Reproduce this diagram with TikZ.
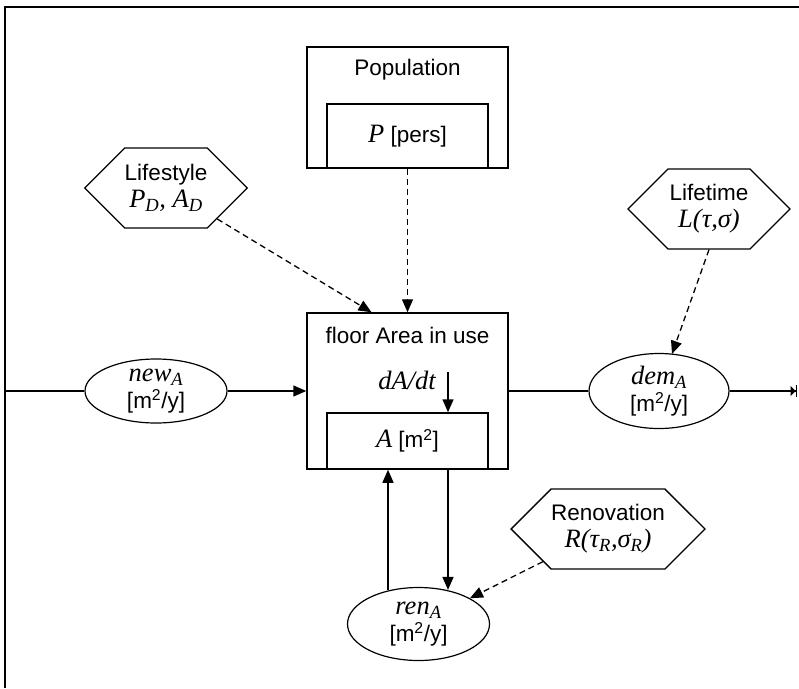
\documentclass[tikz,border=0pt]{standalone}
\usepackage{fontspec}
\setmainfont{Liberation Sans}
\newfontfamily\tms{Liberation Serif}
\usetikzlibrary{arrows.meta,shapes.geometric,shapes.symbols,calc}

\newcommand{\vr}[1]{{\tms\itshape\fontsize{26.5}{27}\selectfont #1}}
\newcommand{\unitA}{[m\textsuperscript{2}/y]}

\tikzset{
  lbl/.style={font=\fontsize{22.5}{27}\selectfont, align=center, inner sep=0pt},
  box/.style={draw, line width=1.5pt, inner sep=0pt},
  hexa/.style={draw, line width=1.3pt, signal, signal to=east and west,
    signal pointer angle=90, minimum width=162pt, minimum height=80pt, lbl},
  flowell/.style={draw, ellipse, line width=1.2pt, minimum width=142pt, lbl},
  flow/.style={line width=1.5pt, -{Triangle[length=13pt,width=11pt]}},
  infl/.style={flow, line width=1.3pt, dash pattern=on 6pt off 4pt},
}

\begin{document}
\begin{tikzpicture}[x=1pt,y=1pt,yscale=-1]
\useasboundingbox (0,0) rectangle (799,688);

% frame
\draw[line width=2pt] (5,688) -- (5,7) -- (799,7);

% Population stock
\node[box, minimum width=201pt, minimum height=121pt] (pop) at (407.5,107.5) {};
\node[box, lbl, minimum width=161pt, minimum height=64pt] (inP) at (407.5,136) {\vr{P} [pers]};
\node[lbl] (popTxt) at (407.5,70) {Population};

% floor area stock
\node[box, minimum width=201pt, minimum height=156pt] (floor) at (407.5,391) {};
\node[box, lbl, minimum width=161pt, minimum height=56pt] (inA) at (407.5,441) {\vr{A} [m\textsuperscript{2}]};
\node[lbl] (floorTxt) at (407.5,335) {floor Area in use};
\node[lbl] (dAdt) at (407,380) {\vr{dA/dt}};
\draw[flow] ($(inA.north)+(40.5,-40)$) -- ($(inA.north)+(40.5,0)$);

% parameters
\node[hexa] (lifestyle) at (166,188) {Lifestyle\\\vr{P\textsubscript{D}, A\textsubscript{D}}};
\node[hexa] (lifetime) at (709,209) {Lifetime\\\vr{L(τ,σ)}};
\node[hexa] (reno) at (608,529) {Renovation\\\vr{R(τ\textsubscript{R},σ\textsubscript{R})}};

% flows
\node[flowell, minimum height=64pt] (new) at (156,391) {\vr{new\textsubscript{A}}\\\unitA};
\node[flowell, minimum width=140pt, minimum height=75pt] (dem) at (659,391) {\vr{dem\textsubscript{A}}\\\unitA};
\node[flowell, minimum height=73pt] (ren) at (418.5,624) {\vr{ren\textsubscript{A}}\\\unitA};

\coordinate (src) at (5,391);
\coordinate (sink) at (797,391);

\draw[line width=1.5pt] (src) -- (new);
\draw[flow] (new) -- (floor);
\draw[line width=1.5pt] (floor) -- (dem);
\draw[line width=1.5pt, -{Triangle[length=5pt,width=10pt]Bar[width=12pt]}] (dem) -- (sink);

\draw[flow] ($(floor.south)+(40.5,0)$) -- ($(ren.north)+(29.5,3)$);
\draw[flow] ($(ren.north)+(-30.5,3.5)$) -- ($(floor.south)+(-19.5,0)$);

% influences
\draw[infl] (pop.south) -- (floor.north);
\draw[infl] (lifestyle) -- ($(floor.north)+(-36,0)$);
\draw[infl] (lifetime.south) -- ($(dem.north)+(13,1)$);
\draw[infl] (reno) -- (ren);

\end{tikzpicture}
\end{document}
